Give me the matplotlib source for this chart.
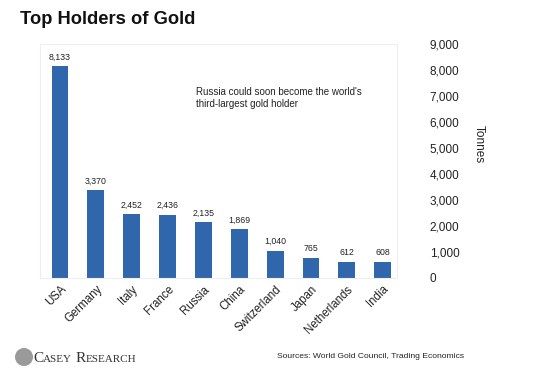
import matplotlib
matplotlib.use("Agg")
import matplotlib.pyplot as plt
from matplotlib.patches import Circle

countries = ["USA", "Germany", "Italy", "France", "Russia", "China",
             "Switzerland", "Japan", "Netherlands", "India"]
tonnes = [8133, 3370, 2452, 2436, 2135, 1869, 1040, 765, 612, 608]
yticks = [0, 1000, 2000, 3000, 4000, 5000, 6000, 7000, 8000, 9000]

bar_color = "#2F66AC"
plt.rcParams["font.family"] = ["Liberation Sans", "DejaVu Sans"]

fig = plt.figure(figsize=(5.5, 3.75), dpi=100)
ax = fig.add_axes([0.0727, 0.259, 0.649, 0.624])

x = list(range(len(countries)))
ax.bar(x, tonnes, width=0.47, color=bar_color, zorder=2)
for xi, v in zip(x, tonnes):
    ax.text(xi, v + 180, f"{v:,}", ha="center", va="bottom", fontsize=6.3, color="#222222")

ax.set_xlim(-0.56, 9.4)
ax.set_ylim(0, 9000)
ax.set_yticks(yticks)
ax.set_yticklabels([f"{t:,}" for t in yticks], fontsize=8.5, color="#222222")
ax.yaxis.tick_right()
ax.tick_params(axis="y", length=0, pad=23.5)
ax.set_xticks(x)
ax.set_xticklabels(countries, rotation=45, ha="right", rotation_mode="anchor",
                   fontsize=8.3, color="#222222")
ax.tick_params(axis="x", length=0, pad=4)
for s in ax.spines.values():
    s.set_color("#eeeeee")
    s.set_linewidth(0.8)

ax.yaxis.set_label_position("right")
ax.set_ylabel("Tonnes", rotation=270, fontsize=8.5, color="#222222")
ax.yaxis.set_label_coords(1.245, 0.573)

ax.text(3.8, 7350, "Russia could soon become the world's\nthird-largest gold holder",
        fontsize=7, color="#222222", va="top", ha="left", linespacing=1.3)

fig.text(0.036, 0.947, "Top Holders of Gold", fontsize=13.2, fontweight="bold",
         color="#111111", va="center", ha="left")

# Footer logo
logo = Circle((24, 18), 9, transform=None, facecolor="#9a9a9a", edgecolor="none")
fig.patches.append(logo)
fig.canvas.draw()
renderer = fig.canvas.get_renderer()
parts = [("C", 11), ("ASEY", 8), (" ", 8), ("R", 11), ("ESEARCH", 8)]
xpos = 33.0
ybase = 375 - 362
for s, fs in parts:
    t = fig.text(xpos / 550, ybase / 375, s, fontsize=fs, family="Liberation Serif",
                 color="#333333", va="baseline", ha="left")
    bb = t.get_window_extent(renderer=renderer)
    if s == " ":
        xpos += 3
    else:
        xpos += bb.width

fig.text(277 / 550, 0.048, "Sources: World Gold Council, Trading Economics", fontsize=6.1,
         color="#222222", va="center", ha="left")

fig.savefig("out.png", dpi=100)
